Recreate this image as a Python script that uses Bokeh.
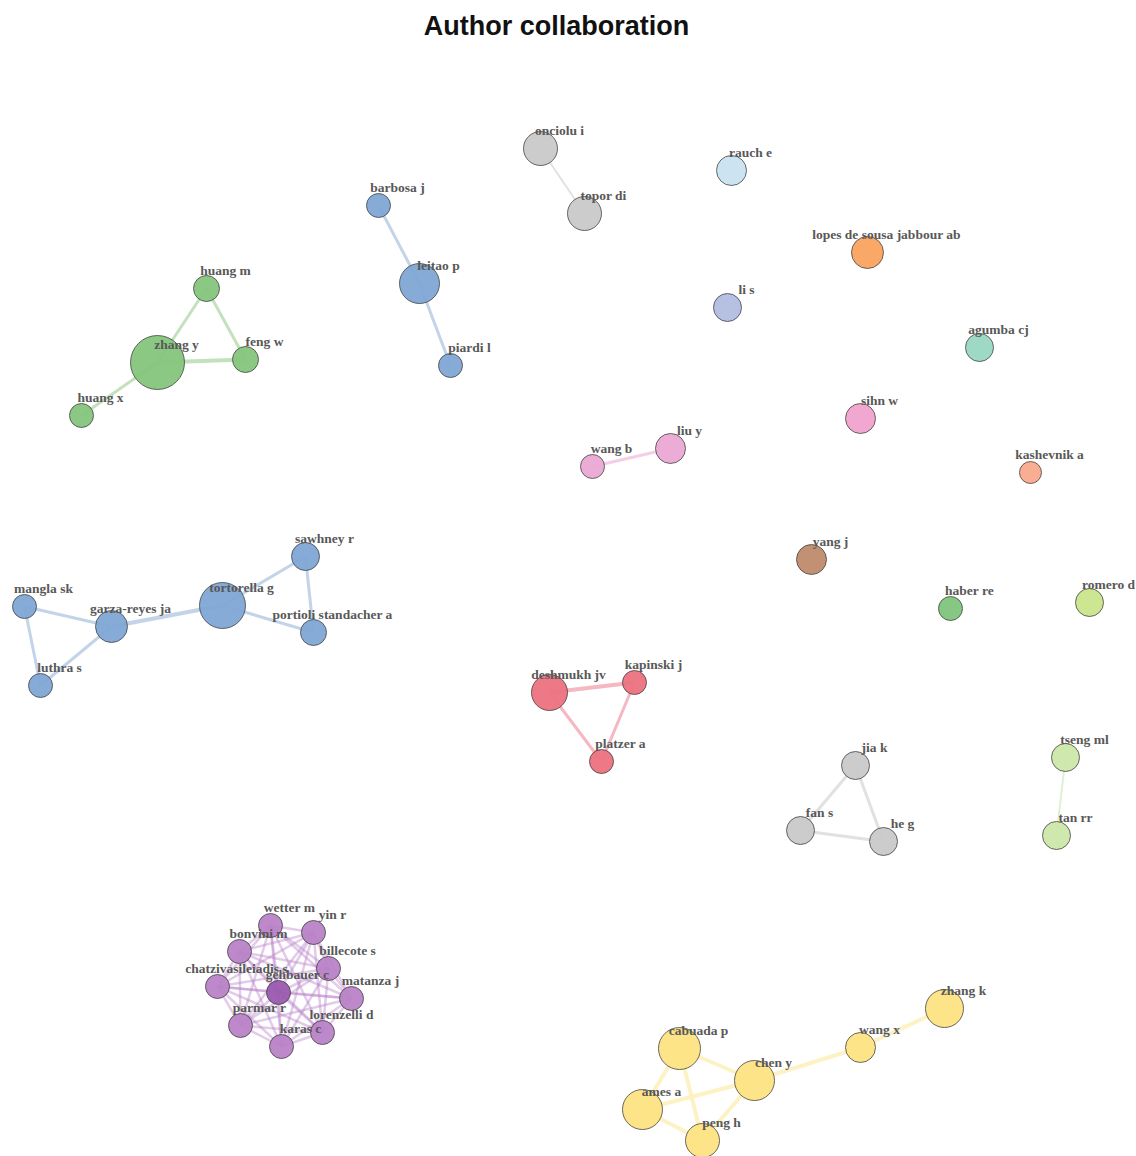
from itertools import combinations

from bokeh.embed import file_html
from bokeh.models import ColumnDataSource, Label, Range1d
from bokeh.plotting import figure
from bokeh.resources import INLINE

# ---- network data -------------------------------------------------------
authors = [
    "zhang y", "huang m", "feng w", "huang x",
    "barbosa j", "leitao p", "piardi l",
    "onciolu i", "topor di",
    "rauch e", "lopes de sousa jabbour ab", "li s", "agumba cj", "sihn w",
    "liu y", "wang b", "kashevnik a", "yang j", "haber re", "romero d",
    "tortorella g", "sawhney r", "portioli standacher a", "garza-reyes ja",
    "mangla sk", "luthra s",
    "deshmukh jv", "kapinski j", "platzer a",
    "jia k", "fan s", "he g",
    "tseng ml", "tan rr",
    "wetter m", "yin r", "bonvini m", "billecote s", "chatzivasileiadis s",
    "gehbauer c", "matanza j", "parmar r", "lorenzelli d", "karas c",
    "cabuada p", "chen y", "ames a", "peng h", "wang x", "zhang k",
]

# layout coordinates (force-directed layout, screen-like units)
layout_x = [
    157, 206, 245, 81,
    378, 419, 450,
    540, 584,
    731, 867, 727, 979, 860,
    670, 592, 1030, 811, 950, 1089,
    222, 305, 313, 111,
    24, 40,
    549, 634, 601,
    855, 800, 883,
    1065, 1056,
    270, 313, 239, 328, 217,
    278, 351, 240, 322, 281,
    679, 754, 642, 702, 860, 944,
]
layout_y = [
    362, 288, 359, 415,
    205, 283, 365,
    148, 213,
    170, 252, 307, 347, 418,
    448, 466, 472, 559, 608, 602,
    605, 556, 632, 626,
    606, 685,
    692, 682, 761,
    765, 830, 841,
    757, 835,
    925, 932, 951, 968, 986,
    992, 998, 1025, 1032, 1046,
    1048, 1080, 1109, 1140, 1047, 1008,
]

# node centrality (drawn as circle radius)
centrality = [
    27, 13, 13, 12,
    12, 20, 12,
    17, 17,
    15, 16, 14, 14, 15,
    15, 12, 11, 15, 12, 14,
    23, 14, 13, 16,
    12, 12,
    18, 12, 12,
    14, 14, 14,
    14, 14,
    12, 12, 12, 12, 12,
    12, 12, 12, 12, 12,
    21, 20, 20, 17, 15, 19,
]

# cluster membership
cluster = [
    "c1", "c1", "c1", "c1",
    "c2", "c2", "c2",
    "c3", "c3",
    "c4", "c5", "c6", "c7", "c8",
    "c9", "c9", "c10", "c11", "c12", "c13",
    "c2", "c2", "c2", "c2",
    "c2", "c2",
    "c14", "c14", "c14",
    "c3", "c3", "c3",
    "c15", "c15",
    "c16", "c16", "c16", "c16", "c16",
    "c17", "c16", "c16", "c16", "c16",
    "c18", "c18", "c18", "c18", "c18", "c18",
]

cluster_fill = {
    "c1": "#84c57c", "c2": "#7fa7d5", "c3": "#c9c9c9", "c4": "#c9e1f0",
    "c5": "#f9a35f", "c6": "#b2bde1", "c7": "#99d7c3", "c8": "#f0a2cd",
    "c9": "#eaa9d4", "c10": "#f9aa8e", "c11": "#bf8a6c", "c12": "#7fc47c",
    "c13": "#c9e58c", "c14": "#ec7281", "c15": "#cbe7a9", "c16": "#b983c7",
    "c17": "#9b5bb0", "c18": "#fde383",
}
cluster_edge = {
    "c1": "#bcdeb5", "c2": "#bccfe5", "c3": "#dedede", "c9": "#f3c8e4",
    "c14": "#f4afbb", "c15": "#dcf0cc", "c16": "#b77fc7", "c18": "#fdf1bd",
}

purple_group = ["wetter m", "yin r", "bonvini m", "billecote s",
                "chatzivasileiadis s", "gehbauer c", "matanza j",
                "parmar r", "lorenzelli d", "karas c"]

# collaboration links: (author, author, strength)
links = [
    ("zhang y", "huang m", 3), ("huang m", "feng w", 3),
    ("zhang y", "feng w", 4), ("zhang y", "huang x", 3),
    ("barbosa j", "leitao p", 3), ("leitao p", "piardi l", 3),
    ("onciolu i", "topor di", 2),
    ("liu y", "wang b", 3),
    ("tortorella g", "sawhney r", 3), ("sawhney r", "portioli standacher a", 3),
    ("tortorella g", "portioli standacher a", 3),
    ("tortorella g", "garza-reyes ja", 4), ("garza-reyes ja", "mangla sk", 3),
    ("mangla sk", "luthra s", 3), ("garza-reyes ja", "luthra s", 3),
    ("deshmukh jv", "kapinski j", 4), ("kapinski j", "platzer a", 3),
    ("deshmukh jv", "platzer a", 3),
    ("jia k", "fan s", 3), ("jia k", "he g", 3), ("fan s", "he g", 3),
    ("tseng ml", "tan rr", 2),
    ("cabuada p", "chen y", 4), ("cabuada p", "ames a", 4),
    ("cabuada p", "peng h", 4), ("ames a", "chen y", 4),
    ("ames a", "peng h", 4), ("chen y", "peng h", 4),
    ("chen y", "wang x", 4), ("wang x", "zhang k", 4),
] + [(a, b, 2.5) for a, b in combinations(purple_group, 2)]

# ---- drawing ------------------------------------------------------------
W, H = 1136, 1156
p = figure(width=W, height=H, output_backend="svg", toolbar_location=None,
           x_range=Range1d(0, W), y_range=Range1d(H, 0),
           min_border=0, outline_line_color=None)
p.axis.visible = False
p.grid.visible = False
p.background_fill_color = "white"
p.border_fill_color = "white"

idx = {a: i for i, a in enumerate(authors)}

ex0, ey0, ex1, ey1, ecol, ew, ea = [], [], [], [], [], [], []
for a, b, s in links:
    i, j = idx[a], idx[b]
    ex0.append(layout_x[i]); ey0.append(layout_y[i])
    ex1.append(layout_x[j]); ey1.append(layout_y[j])
    c = cluster[i] if cluster[i] != "c17" else cluster[j]
    ecol.append(cluster_edge[c])
    ew.append(s)
    ea.append(0.4 if c == "c16" else 0.9)

p.segment(x0="x0", y0="y0", x1="x1", y1="y1", line_color="c", line_width="w",
          line_alpha="a",
          source=ColumnDataSource(dict(x0=ex0, y0=ey0, x1=ex1, y1=ey1,
                                       c=ecol, w=ew, a=ea)))

node_src = ColumnDataSource(dict(
    x=layout_x, y=layout_y,
    size=[2 * v for v in centrality],
    fill=[cluster_fill[c] for c in cluster],
    name=authors,
))
p.scatter(x="x", y="y", size="size", fill_color="fill", fill_alpha=0.95,
          line_color="#3a3a3a", line_alpha=0.75, line_width=1,
          source=node_src)

p.text(x="x", y="y", text="name", source=node_src,
       x_offset=19, y_offset=-18, text_align="center",
       text_baseline="middle", text_font={"value": "Liberation Serif"},
       text_font_style="bold", text_font_size="13.5px", text_color="#585858")

p.add_layout(Label(x=556, y=25, text="Author collaboration",
                   text_align="center", text_baseline="middle",
                   text_font="Liberation Sans", text_font_style="bold",
                   text_font_size="27px", text_color="#111111"))

open("out.html", "w").write(file_html(p, INLINE))
